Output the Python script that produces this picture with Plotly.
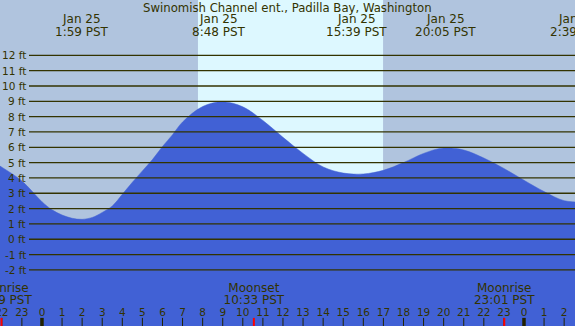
import plotly.graph_objects as go

# ---------------- data ----------------
title = "Swinomish Channel ent., Padilla Bay, Washington"

# hours relative to midnight starting Jan 25 (PST)
tide_hours = [-3, -2, -1, 0, 0.5, 1, 1.5, 2, 2.5, 3, 3.5, 4, 4.5, 5, 5.5, 6, 6.5, 7,
              8, 9, 10, 11, 12, 13, 14, 15, 16, 17, 18, 19, 20, 21, 22, 23, 24, 25, 26, 27]
tide_ft = [5.45, 4.70, 3.80, 2.45, 1.92, 1.58, 1.37, 1.30, 1.42, 1.75, 2.17, 2.93, 3.72,
           4.46, 5.20, 6.05, 6.82, 7.65,
           8.66, 8.97, 8.64, 7.75, 6.65, 5.60, 4.72, 4.32, 4.26, 4.50, 5.00, 5.60,
           5.96, 5.82, 5.30, 4.62, 3.85, 3.11, 2.52, 2.43]

extreme_day = ["Jan 25", "Jan 25", "Jan 25", "Jan 25", "Jan 26"]
extreme_clock = ["1:59", "8:48", "15:39", "20:05", "2:39"]
extreme_dayoffset = [0, 0, 0, 0, 1]

sun_clock = ["7:46", "16:59"]          # sunrise, sunset

moon_names = ["Moonrise", "Moonset", "Moonrise"]
moon_clock = ["21:59", "10:33", "23:01"]
moon_dayoffset = [-1, 0, 0]

y_ticks = list(range(-2, 13))
hour_ticks = list(range(-2, 27))

# ---------------- styles ----------------
NIGHT = "#b0c4de"
DAY = "#ddf8ff"
WATER = "#4161d5"
INK = "#333300"
FONT = "DejaVu Sans"
X_RANGE = [-2.09, 26.54]
Y_RANGE = [-5.66, 15.61]
FLOOR = -6.0


def to_hours(clock, dayoff=0):
    h, m = clock.split(":")
    return int(h) + int(m) / 60.0 + 24 * dayoff


fig = go.Figure()

# baseline (bottom of chart) + tide fill
fig.add_trace(go.Scatter(x=tide_hours, y=[FLOOR] * len(tide_hours), mode="lines",
                         line=dict(width=0, color=WATER), hoverinfo="skip",
                         showlegend=False))
fig.add_trace(go.Scatter(x=tide_hours, y=tide_ft, mode="lines",
                         line=dict(width=0.5, color=WATER, shape="spline", smoothing=1.0),
                         fill="tonexty", fillcolor=WATER, showlegend=False))

shapes = []
# daylight band
sr, ss = to_hours(sun_clock[0]), to_hours(sun_clock[1])
shapes.append(dict(type="rect", xref="x", yref="paper", x0=sr, x1=ss, y0=0, y1=1,
                   fillcolor=DAY, line=dict(width=0), layer="below"))
# horizontal grid lines
for v in y_ticks:
    shapes.append(dict(type="line", xref="paper", yref="y", x0=29 / 575, x1=1,
                       y0=v, y1=v, line=dict(color=INK, width=1.3), layer="above"))
# hour ticks
for h in hour_ticks:
    mid = (h % 24 == 0)
    shapes.append(dict(type="line", xref="x", yref="y", x0=h, x1=h, y0=-5.13, y1=-5.8,
                       line=dict(color="#222200", width=3.5 if mid else 1), layer="above"))
# moon ticks
for c, d in zip(moon_clock, moon_dayoffset):
    t = to_hours(c, d)
    shapes.append(dict(type="line", xref="x", yref="y", x0=t, x1=t, y0=-5.13, y1=-5.8,
                       line=dict(color="#ff0000", width=2), layer="above"))

annotations = []
annotations.append(dict(xref="paper", yref="y", x=0.5, y=15.1, text=title,
                        xanchor="center", showarrow=False,
                        font=dict(family=FONT, size=11.7, color=INK)))
for v in y_ticks:
    annotations.append(dict(xref="paper", yref="y", x=27.5 / 575, y=v, text=f"{v} ft",
                            xanchor="right", showarrow=False,
                            font=dict(family=FONT, size=10.5, color=INK)))

# top extreme labels; labels whose time lies past the visible range are placed on
# the paper at the same axis fraction so their visible part still shows
for dlab, c, d in zip(extreme_day, extreme_clock, extreme_dayoffset):
    t = to_hours(c, d)
    if X_RANGE[0] <= t <= X_RANGE[1]:
        xr, xv = "x", t
    else:
        xr, xv = "paper", (t - X_RANGE[0]) / (X_RANGE[1] - X_RANGE[0])
    annotations.append(dict(xref=xr, yref="y", x=xv, y=14.35, text=dlab,
                            xanchor="center", showarrow=False,
                            font=dict(family=FONT, size=12, color=INK)))
    annotations.append(dict(xref=xr, yref="y", x=xv, y=13.54, text=c + " PST",
                            xanchor="center", showarrow=False,
                            font=dict(family=FONT, size=12, color=INK)))

fig.update_layout(shapes=shapes, annotations=annotations)

# moon labels
moon_x = [to_hours(c, d) for c, d in zip(moon_clock, moon_dayoffset)]
fig.add_trace(go.Scatter(x=moon_x, y=[-3.24] * len(moon_x), mode="text", text=moon_names,
                         textfont=dict(family=FONT, size=12, color=INK), cliponaxis=False,
                         showlegend=False, hoverinfo="skip"))
fig.add_trace(go.Scatter(x=moon_x, y=[-4.02] * len(moon_x), mode="text",
                         text=[c + " PST" for c in moon_clock],
                         textfont=dict(family=FONT, size=12, color=INK), cliponaxis=False,
                         showlegend=False, hoverinfo="skip"))
# hour labels
fig.add_trace(go.Scatter(x=hour_ticks, y=[-4.83] * len(hour_ticks), mode="text",
                         text=[str(h % 24) for h in hour_ticks],
                         textfont=dict(family=FONT, size=10.5, color=INK), cliponaxis=False,
                         showlegend=False, hoverinfo="skip"))

fig.update_layout(
    width=575, height=326, margin=dict(l=0, r=0, t=0, b=0),
    paper_bgcolor=NIGHT, plot_bgcolor=NIGHT,
    xaxis=dict(range=X_RANGE, visible=False, fixedrange=True),
    yaxis=dict(range=Y_RANGE, visible=False, fixedrange=True),
    showlegend=False,
)

fig.write_html("out.html", config={"displayModeBar": False, "staticPlot": True},
               post_script="document.body.style.margin='0';document.body.style.padding='0';"
                           "document.body.style.overflow='hidden';")
